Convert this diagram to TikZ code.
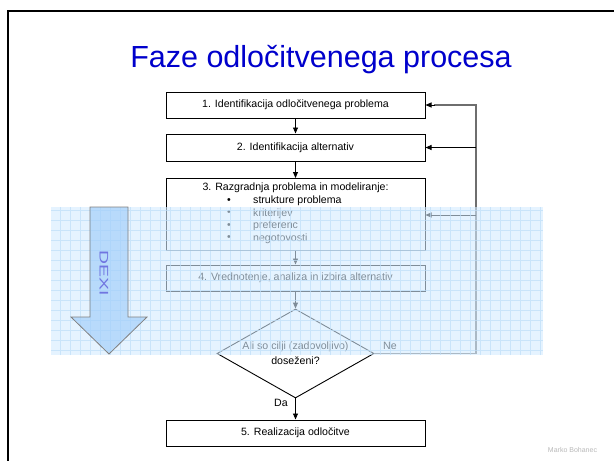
\documentclass[tikz,border=0pt]{standalone}
\usepackage{fontspec}
\setmainfont{Liberation Sans}
\usetikzlibrary{shapes.geometric,arrows.meta}
\definecolor{titleblue}{RGB}{0,0,204}
\definecolor{ovl}{RGB}{212,235,255}
\definecolor{gridblue}{RGB}{190,222,248}
\definecolor{dexifill}{RGB}{160,205,250}
\definecolor{dexitext}{RGB}{100,100,220}
\definecolor{fbgray}{RGB}{110,110,110}
\tikzset{
  procbox/.style={draw=black, line width=1pt, minimum width=259pt, inner sep=0pt, font=\fontsize{10.6}{12}\selectfont},
  lbl/.style={inner sep=0pt, font=\fontsize{10.6}{12}\selectfont},
  flow/.style={line width=0.9pt, -{Triangle[length=6pt,width=5pt]}},
  fb/.style={draw=fbgray, line width=1.3pt},
  fbarrow/.style={line width=0.9pt, -{Triangle[length=6pt,width=5pt]}},
}
\begin{document}
\begin{tikzpicture}[x=1pt,y=-1pt]
\useasboundingbox (0,0) rectangle (614,461);
\fill[white] (0,0) rectangle (614,461);
% slide frame
\draw[line width=2pt] (620,11) -- (8,11) -- (8,470);
% title
\node[text=titleblue, font=\fontsize{30.5}{34}\selectfont, inner sep=0pt, anchor=base] (title) at (321,67) {Faze odločitvenega procesa};
% boxes
\node[procbox, minimum height=26pt] (b1) at (295.5,105) {1. Identifikacija odločitvenega problema};
\node[procbox, minimum height=27pt] (b2) at (295.5,147.5) {2. Identifikacija alternativ};
\node[procbox, minimum height=72pt] (b3) at (295.5,214.5) {};
\node[procbox, minimum height=26pt] (b4) at (295.5,278) {4. Vrednotenje, analiza in izbira alternativ};
\node[procbox, minimum height=26pt] (b5) at (295.5,433) {5. Realizacija odločitve};
\node[lbl] (t3) at (295.5,188) {3. Razgradnja problema in modeliranje:};
\node[lbl] (p1) at (229,201) {•};
\node[lbl] (p2) at (229,213.5) {•};
\node[lbl] (p3) at (229,226) {•};
\node[lbl] (p4) at (229,238.5) {•};
\node[lbl, anchor=west] (i1) at (253,201) {strukture problema};
\node[lbl, anchor=west] (i2) at (253,213.5) {kriterijev};
\node[lbl, anchor=west] (i3) at (253,226) {preferenc};
\node[lbl, anchor=west] (i4) at (253,238.5) {negotovosti};
% decision diamond
\node[diamond, draw=black, line width=0.9pt, inner sep=0pt, minimum width=157pt, minimum height=89pt] (d) at (295.5,353.5) {};
\node[lbl] (dt1) at (295.5,347) {Ali so cilji (zadovoljivo)};
\node[lbl] (dt2) at (295.5,361) {doseženi?};
\node[lbl] (ne) at (390,346) {Ne};
\node[lbl] (da) at (281,403) {Da};
% main flow
\draw[flow] (b1.south) -- (b2.north);
\draw[flow] (b2.south) -- (b3.north);
\draw[flow] (b3.south) -- (b4.north);
\draw[flow] (b4.south) -- (d.north);
\draw[flow] (d.south) -- (b5.north);
% feedback
\coordinate (c1) at (476,353.5);
\coordinate (c2) at (476,105);
\coordinate (c3) at (476,147.5);
\coordinate (c4) at (476,215);
\draw[fb] (d.east) -- (c1) -- (c2) -- ([xshift=8pt]b1.east);
\draw[fbarrow] ([xshift=9pt]b1.east) -- (b1.east);
\draw[fbarrow] (c3) -- (b2.east);
\draw[fbarrow] (c4) -- (b3.east |- c4);
% overlay
\fill[ovl, opacity=0.6] (51,207) rectangle (543,355);
\begin{scope}
\clip (51,207) rectangle (543,355);
\draw[gridblue, line width=0.5pt, opacity=0.7] (51,207) grid[step=10pt] (543,355);
\end{scope}
% DEXI arrow
\coordinate (a1) at (90,207);
\coordinate (a2) at (128,207);
\coordinate (a3) at (128,317);
\coordinate (a4) at (147,317);
\coordinate (a5) at (109,354);
\coordinate (a6) at (71,317);
\coordinate (a7) at (90,317);
\filldraw[fill=dexifill, fill opacity=0.65, draw=gray, line width=0.8pt] (a1) -- (a2) -- (a3) -- (a4) -- (a5) -- (a6) -- (a7) -- cycle;
\node[text=dexitext, text opacity=0.85, rotate=-90, font=\fontsize{12.5}{15}\selectfont, inner sep=0pt] (dexi) at (104,273) {\scalebox{1.55}[1]{DEXI}};
% author
\node[text=gray!55, font=\fontsize{7}{8}\selectfont, inner sep=0pt] (auth) at (572.5,450) {Marko Bohanec};
\end{tikzpicture}
\end{document}
